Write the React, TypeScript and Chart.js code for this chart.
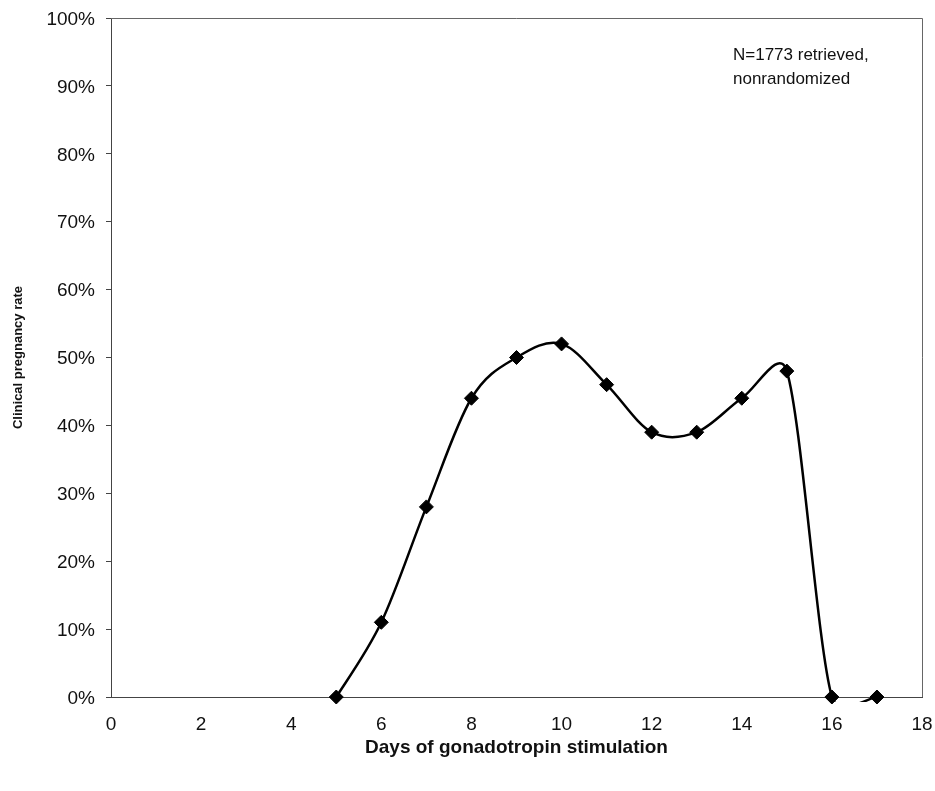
import React, { useEffect, useRef } from "react";
import { Chart, registerables } from "chart.js";

Chart.register(...registerables);

const days = [5, 6, 7, 8, 9, 10, 11, 12, 13, 14, 15, 16, 17];
const pregnancyRate = [0, 11, 28, 44, 50, 52, 46, 39, 39, 44, 48, 0, 0];
const xTicks = [0, 2, 4, 6, 8, 10, 12, 14, 16, 18];
const yTicks = [0, 10, 20, 30, 40, 50, 60, 70, 80, 90, 100];
const noteLines = ["N=1773 retrieved,", "nonrandomized"];
const xTitle = "Days of gonadotropin stimulation";
const yTitle = "Clinical pregnancy rate";

const FONT = "Arial, 'Liberation Sans', Helvetica, sans-serif";

export default function App() {
  const ref = useRef<HTMLCanvasElement | null>(null);

  useEffect(() => {
    if (!ref.current) return;

    // Excel-style smoothed line drawn through the data via the chart scales
    const smoothLine = {
      id: "smoothLine",
      beforeDatasetsDraw(chart: any) {
        const ctx = chart.ctx;
        const xs = chart.scales.x;
        const ys = chart.scales.y;
        const pts = days.map((d, i) => ({
          x: xs.getPixelForValue(d),
          y: ys.getPixelForValue(pregnancyRate[i]),
        }));
        const n = pts.length;
        const dist = (a: any, b: any) => Math.hypot(b.x - a.x, b.y - a.y);
        // tangent control offsets, capped to half of the adjacent segment
        const ctrl = (i: number, dir: 1 | -1) => {
          const p0 = pts[Math.max(0, i - 1)];
          const p2 = pts[Math.min(n - 1, i + 1)];
          let tx = (p2.x - p0.x) / 6;
          let ty = (p2.y - p0.y) / 6;
          const len = Math.hypot(tx, ty);
          const seg = dir === 1 ? dist(pts[i], p2) : dist(p0, pts[i]);
          const cap = seg * 0.5;
          if (len > cap && len > 0) {
            tx *= cap / len;
            ty *= cap / len;
          }
          return { x: pts[i].x + dir * tx, y: pts[i].y + dir * ty };
        };
        const { chartArea } = chart;
        ctx.save();
        ctx.beginPath();
        ctx.rect(chartArea.left, chartArea.top, chartArea.right - chartArea.left, chartArea.bottom - chartArea.top + 5);
        ctx.clip();
        ctx.strokeStyle = "#000";
        ctx.lineWidth = 2.5;
        ctx.lineJoin = "round";
        ctx.lineCap = "round";
        ctx.beginPath();
        ctx.moveTo(pts[0].x, pts[0].y);
        for (let i = 0; i < n - 1; i++) {
          const c1 = ctrl(i, 1);
          const c2 = ctrl(i + 1, -1);
          ctx.bezierCurveTo(c1.x, c1.y, c2.x, c2.y, pts[i + 1].x, pts[i + 1].y);
        }
        ctx.stroke();
        ctx.restore();
      },
    };

    const notePlugin = {
      id: "note",
      afterDraw(chart: any) {
        const ctx = chart.ctx;
        const { chartArea } = chart;
        ctx.save();
        ctx.fillStyle = "#111";
        ctx.font = `17px ${FONT}`;
        ctx.textAlign = "left";
        ctx.textBaseline = "alphabetic";
        noteLines.forEach((t, i) => {
          ctx.fillText(t, chartArea.right - 189, chartArea.top + 42 + i * 24);
        });
        ctx.restore();
      },
    };

    const frame = {
      id: "frame",
      afterDatasetsDraw(chart: any) {
        const ctx = chart.ctx;
        const { chartArea } = chart;
        ctx.save();
        ctx.strokeStyle = "#666";
        ctx.lineWidth = 1;
        ctx.beginPath();
        ctx.moveTo(chartArea.left, chartArea.top + 0.5);
        ctx.lineTo(chartArea.right + 0.5, chartArea.top + 0.5);
        ctx.lineTo(chartArea.right + 0.5, chartArea.bottom);
        ctx.stroke();
        ctx.restore();
      },
    };

    const chart = new Chart(ref.current, {
      type: "line",
      data: {
        datasets: [
          {
            data: days.map((d, i) => ({ x: d, y: pregnancyRate[i] })),
            showLine: false,
            borderColor: "#000",
            backgroundColor: "#000",
            pointStyle: "rectRot",
            pointRadius: 7,
            pointHoverRadius: 7,
            pointBackgroundColor: "#000",
            pointBorderColor: "#000",
            pointBorderWidth: 1,
            clip: false as any,
          },
        ],
      },
      options: {
        animation: false,
        responsive: false,
        maintainAspectRatio: false,
        layout: { padding: { left: 0, top: 18, right: 13, bottom: 0 } },
        plugins: {
          legend: { display: false },
          tooltip: { enabled: false },
        },
        scales: {
          x: {
            type: "linear",
            min: 0,
            max: 18,
            afterBuildTicks: (scale: any) => {
              scale.ticks = xTicks.map((v) => ({ value: v }));
            },
            afterFit: (scale: any) => {
              scale.height = 94;
              scale.paddingLeft = 0;
              scale.paddingRight = 0;
            },
            grid: { display: true, drawOnChartArea: false, drawTicks: false },
            border: { display: true, color: "#444", width: 1 },
            ticks: {
              color: "#111",
              font: { family: FONT, size: 19 },
              padding: 16,
              maxRotation: 0,
            },
            title: {
              display: true,
              text: xTitle,
              color: "#111",
              font: { family: FONT, size: 19, weight: "bold" },
              padding: { top: 0, bottom: 32 },
            },
          },
          y: {
            type: "linear",
            min: 0,
            max: 100,
            afterBuildTicks: (scale: any) => {
              scale.ticks = yTicks.map((v) => ({ value: v }));
            },
            afterFit: (scale: any) => {
              scale.width = 111;
              scale.paddingTop = 0;
              scale.paddingBottom = 0;
            },
            grid: {
              display: true,
              drawOnChartArea: false,
              drawTicks: true,
              tickLength: 5,
              color: "#444",
            },
            border: { display: true, color: "#444", width: 1 },
            ticks: {
              color: "#111",
              font: { family: FONT, size: 19 },
              padding: 11,
              labelOffset: 1.5,
              callback: (v: any) => `${v}%`,
            },
            title: {
              display: true,
              text: yTitle,
              color: "#111",
              font: { family: FONT, size: 13, weight: "bold" },
              padding: { top: 11, bottom: 0 },
            },
          },
        },
      },
      plugins: [smoothLine, notePlugin, frame],
    });
    return () => chart.destroy();
  }, []);

  return (
    <div
      style={{
        position: "fixed",
        left: 0,
        top: 0,
        width: 935,
        height: 791,
        background: "#fff",
      }}
    >
      <canvas ref={ref} width={935} height={791} style={{ width: 935, height: 791 }} />
    </div>
  );
}
